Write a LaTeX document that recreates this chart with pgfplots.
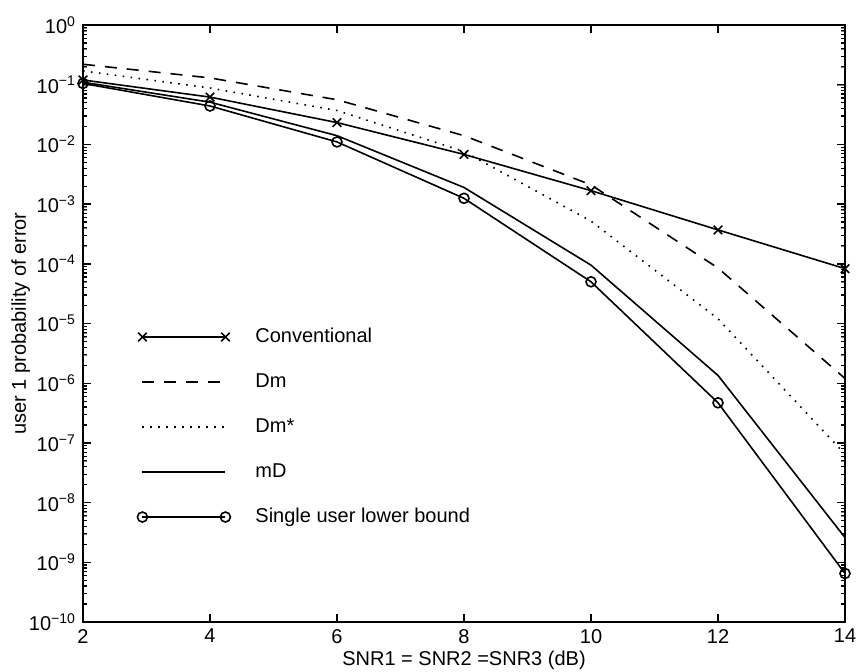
\documentclass[border=0pt]{standalone}
\usepackage{fontspec}
\setmainfont{Liberation Sans}
\usepackage{pgfplots}
\pgfplotsset{compat=1.18}
\usetikzlibrary{calc}

\begin{document}
\begin{tikzpicture}
\begin{axis}[
  scale only axis, width=381pt, height=298.5pt,
  ymode=log,
  xmin=2, xmax=14, ymin=1e-10, ymax=1,
  xtick={2,4,6,8,10,12,14},
  ytick={1e-10,1e-9,1e-8,1e-7,1e-6,1e-5,1e-4,1e-3,1e-2,1e-1,1},
  yticklabels={10\textsuperscript{−10},10\textsuperscript{−9},10\textsuperscript{−8},
    10\textsuperscript{−7},10\textsuperscript{−6},10\textsuperscript{−5},10\textsuperscript{−4},
    10\textsuperscript{−3},10\textsuperscript{−2},10\textsuperscript{−1},10\textsuperscript{0}},
  /pgf/number format/assume math mode=true,
  font=\fontsize{10}{12}\selectfont,
  axis line style={line width=1pt},
  tick align=inside,
  tickwidth=4pt, subtickwidth=2pt,
  xlabel={SNR1 = SNR2 =SNR3 (dB)},
  xlabel style={yshift=3pt},
  ylabel={user 1 probability of error},
  ylabel style={at={(axis description cs:-0.0604,0.5)}, anchor=south},
  clip=false,
  legend style={draw=none, fill=none, inner sep=0pt,
    at={(axis description cs:0.0709,0.3266)}, anchor=west,
    row sep=13pt, column sep=12.5pt,
    nodes={inner sep=0pt, text height=7.5pt, text depth=2pt},
    cells={anchor=west}},
  legend image code/.code={\draw[#1] plot coordinates {(0pt,0pt) (41.5pt,0pt)};},
]
%% Conventional
\addplot[black, line width=0.8pt, mark=x, mark size=3pt] coordinates {
  (2,0.12)(4,0.062)(6,0.0232)(8,0.0068)(10,0.00168)(12,3.7e-4)(14,8.3e-5)};
%% Dm
\addplot[black, line width=0.8pt, dash pattern=on 6pt off 5pt] coordinates {
  (2,0.22)(4,0.13)(6,0.056)(8,0.014)(10,0.0021)(12,8.5e-5)(14,1.2e-6)};
%% Dm*
\addplot[black, line width=0.8pt, dash pattern=on 0.8pt off 3.2pt] coordinates {
  (2,0.17)(4,0.088)(6,0.037)(8,0.0076)(10,5.2e-4)(12,1.2e-5)(14,6.5e-8)};
%% mD
\addplot[black, line width=0.8pt] coordinates {
  (2,0.11)(4,0.051)(6,0.014)(8,0.0019)(10,9.5e-5)(12,1.35e-6)(14,2.6e-9)};
%% single user bound
\addplot[black, line width=0.8pt, mark=o, mark size=2.5pt] coordinates {
  (2,0.105)(4,0.044)(6,0.011)(8,0.00125)(10,5e-5)(12,4.7e-7)(14,6.5e-10)};
\legend{Conventional, Dm, Dm*, mD, Single user lower bound}
%% box ticks, drawn by hand
\pgfplotsinvokeforeach{2,4,6,8,10,12,14}{
  \draw[line width=0.7pt] (axis cs:#1,1e-10) -- ([yshift=4pt]axis cs:#1,1e-10);
  \draw[line width=0.7pt] (axis cs:#1,1) -- ([yshift=-4pt]axis cs:#1,1);
}
\pgfplotsinvokeforeach{1e-10,1e-9,1e-8,1e-7,1e-6,1e-5,1e-4,1e-3,1e-2,1e-1}{
  \draw[line width=0.7pt] (axis cs:2,#1) -- ([xshift=4pt]axis cs:2,#1);
  \draw[line width=0.7pt] (axis cs:14,#1) -- ([xshift=-4pt]axis cs:14,#1);
}
\pgfplotsinvokeforeach{2,3,4,5,6,7,8,9}{
  \draw[line width=0.6pt] (axis cs:2,#1e-10) -- ([xshift=2pt]axis cs:2,#1e-10);
  \draw[line width=0.6pt] (axis cs:2,#1e-9) -- ([xshift=2pt]axis cs:2,#1e-9);
  \draw[line width=0.6pt] (axis cs:2,#1e-8) -- ([xshift=2pt]axis cs:2,#1e-8);
  \draw[line width=0.6pt] (axis cs:2,#1e-7) -- ([xshift=2pt]axis cs:2,#1e-7);
  \draw[line width=0.6pt] (axis cs:2,#1e-6) -- ([xshift=2pt]axis cs:2,#1e-6);
  \draw[line width=0.6pt] (axis cs:2,#1e-5) -- ([xshift=2pt]axis cs:2,#1e-5);
  \draw[line width=0.6pt] (axis cs:2,#1e-4) -- ([xshift=2pt]axis cs:2,#1e-4);
  \draw[line width=0.6pt] (axis cs:2,#1e-3) -- ([xshift=2pt]axis cs:2,#1e-3);
  \draw[line width=0.6pt] (axis cs:2,#1e-2) -- ([xshift=2pt]axis cs:2,#1e-2);
  \draw[line width=0.6pt] (axis cs:2,#1e-1) -- ([xshift=2pt]axis cs:2,#1e-1);
  \draw[line width=0.6pt] (axis cs:14,#1e-10) -- ([xshift=-2pt]axis cs:14,#1e-10);
  \draw[line width=0.6pt] (axis cs:14,#1e-9) -- ([xshift=-2pt]axis cs:14,#1e-9);
  \draw[line width=0.6pt] (axis cs:14,#1e-8) -- ([xshift=-2pt]axis cs:14,#1e-8);
  \draw[line width=0.6pt] (axis cs:14,#1e-7) -- ([xshift=-2pt]axis cs:14,#1e-7);
  \draw[line width=0.6pt] (axis cs:14,#1e-6) -- ([xshift=-2pt]axis cs:14,#1e-6);
  \draw[line width=0.6pt] (axis cs:14,#1e-5) -- ([xshift=-2pt]axis cs:14,#1e-5);
  \draw[line width=0.6pt] (axis cs:14,#1e-4) -- ([xshift=-2pt]axis cs:14,#1e-4);
  \draw[line width=0.6pt] (axis cs:14,#1e-3) -- ([xshift=-2pt]axis cs:14,#1e-3);
  \draw[line width=0.6pt] (axis cs:14,#1e-2) -- ([xshift=-2pt]axis cs:14,#1e-2);
  \draw[line width=0.6pt] (axis cs:14,#1e-1) -- ([xshift=-2pt]axis cs:14,#1e-1);
}
\coordinate (sw) at (rel axis cs:0,0);
\coordinate (ne) at (rel axis cs:1,1);
\end{axis}
\pgfresetboundingbox
\path[use as bounding box] ($(sw)+(-41.5pt,-24.5pt)$) rectangle ($(ne)+(6pt,12.5pt)$);
\end{tikzpicture}
\end{document}
